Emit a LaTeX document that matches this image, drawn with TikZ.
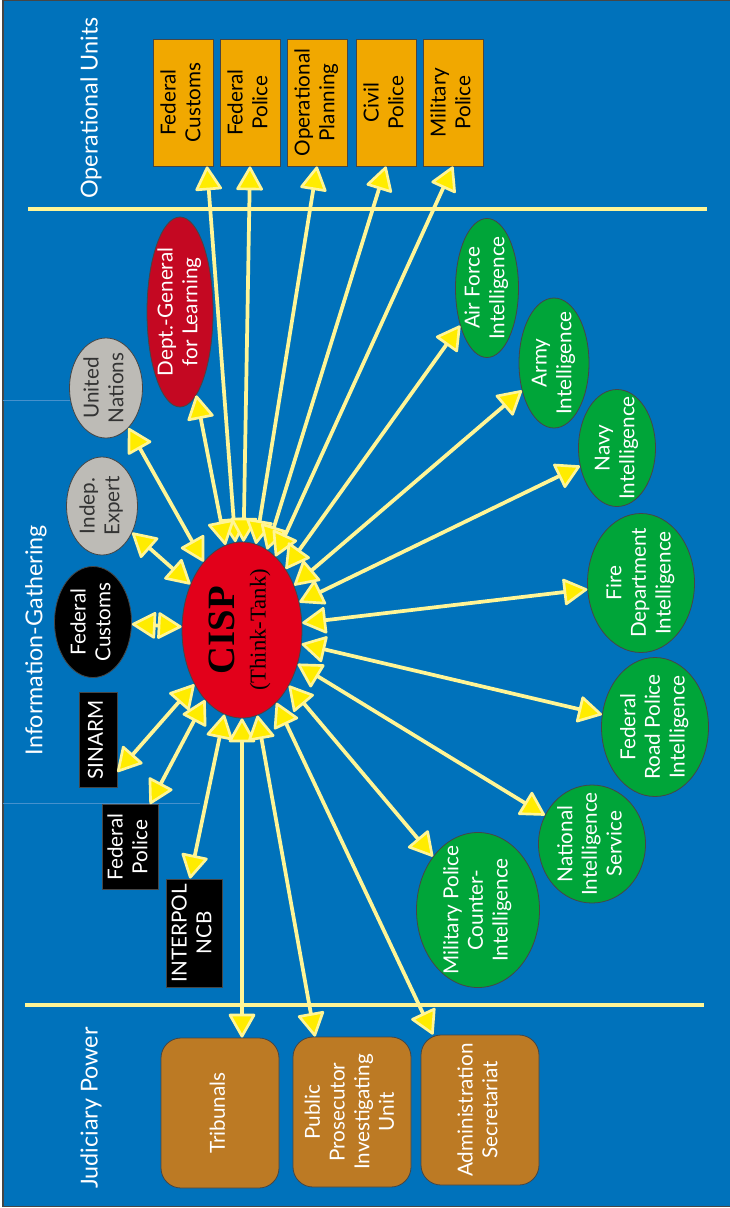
\documentclass[tikz,border=0pt]{standalone}
\usepackage{fontspec}
\setmainfont{Lato}
\newfontfamily\cispfont{Liberation Serif}
\usepackage{graphicx}
\usetikzlibrary{arrows.meta,shapes.geometric}

\definecolor{bgblue}{RGB}{0,114,187}
\definecolor{lineyel}{RGB}{255,245,150}
\definecolor{tipyel}{RGB}{255,236,0}
\definecolor{opsorange}{RGB}{241,168,0}
\definecolor{judbrown}{RGB}{188,122,36}
\definecolor{cispred}{RGB}{226,0,26}
\definecolor{deptred}{RGB}{196,8,34}
\definecolor{intgreen}{RGB}{0,165,57}
\definecolor{srcgray}{RGB}{189,187,182}
\definecolor{edgegray}{RGB}{70,70,70}
\definecolor{faintblue}{RGB}{70,145,205}

% text turned a quarter, zero size so the shape keeps its own size
\newcommand{\vt}[1]{\makebox[0pt]{\raisebox{-.5\height}[0pt][0pt]{\rotatebox{90}{\begin{tabular}{@{}c@{}}#1\end{tabular}}}}}

\tikzset{
  yeltip/.tip={Triangle[length=19pt,width=21pt,fill=tipyel,line width=2pt,round]},
  link/.style={draw=lineyel, line width=2.8pt, yeltip-yeltip},
  divider/.style={draw=lineyel, line width=3pt},
  heading/.style={text=white, inner sep=0pt, font=\fontsize{17.5}{21}\selectfont},
  unitbox/.style={draw=edgegray, line width=0.6pt, fill=opsorange, inner sep=0pt,
    minimum width=45pt, minimum height=95.25pt, font=\fontsize{15.5}{18.5}\selectfont},
  courtbox/.style={draw=edgegray, line width=0.6pt, fill=judbrown, text=white, inner sep=0pt,
    rounded corners=15pt, minimum width=88.5pt, minimum height=112.5pt, font=\fontsize{15.5}{18.5}\selectfont},
  source/.style={ellipse, draw=edgegray, line width=0.6pt, inner sep=0pt, font=\fontsize{15.5}{18.5}\selectfont},
  regbox/.style={draw=edgegray, line width=0.6pt, fill=black, text=white, inner sep=0pt, font=\fontsize{15.5}{18.5}\selectfont},
  intel/.style={ellipse, draw=edgegray, line width=0.6pt, fill=intgreen, text=white, inner sep=0pt, font=\fontsize{15.5}{18.5}\selectfont},
}

\begin{document}
\begin{tikzpicture}[x=0.75pt,y=0.75pt,yscale=-1,xscale=1]
\useasboundingbox (0,0) rectangle (730,1208);
%Background
\draw [fill=bgblue, draw=edgegray, line width=1pt] (3,0.5) rectangle (732,1206.5);
\draw [faintblue, line width=0.5pt] (3,400) -- (140,400);
\draw [faintblue, line width=0.5pt] (3,803) -- (200,803);
%Dividers
\draw [divider] (28,209) -- (707,209);
\draw [divider] (25,1005) -- (704,1005);
% Headings
\node [heading] (hops) at (91,108) {\rotatebox{90}{Operational Units}};
\node [heading] (hinfo) at (36,640) {\rotatebox{90}{Information-Gathering}};
\node [heading] (hjud) at (91,1108) {\rotatebox{90}{Judiciary Power}};
% Operational units
\node [unitbox] (ucust) at (183,102.5) {\vt{Federal\\Customs}};
\node [unitbox] (upol) at (250,102.5) {\vt{Federal\\Police}};
\node [unitbox] (uplan) at (317,102.5) {\vt{Operational\\Planning}};
\node [unitbox] (ucivil) at (386,102.5) {\vt{Civil\\Police}};
\node [unitbox] (umil) at (453,102.5) {\vt{Military\\Police}};
% Judiciary
\node [courtbox] (trib) at (220,1113) {\vt{Tribunals}};
\node [courtbox] (prosec) at (352,1112) {\vt{Public\\Prosecutor\\Investigating\\Unit}};
\node [courtbox] (admin) at (480,1110) {\vt{Administration\\Secretariat}};
% Think-tank
\node [ellipse, draw=edgegray, line width=0.6pt, fill=cispred, inner sep=0pt, minimum width=90pt, minimum height=132pt,
  font=\cispfont\fontsize{17}{23}\selectfont] (cisp) at (242,630)
  {\vt{{\fontsize{29}{29}\selectfont\bfseries CISP}\\(Think-Tank)}};
% Information sources
\node [source, fill=black, text=white, minimum width=57.75pt, minimum height=83.25pt] (fcust) at (93,622) {\vt{Federal\\Customs}};
\node [source, fill=srcgray, text=black!80, minimum width=53.25pt, minimum height=73.5pt] (expert) at (102,506) {\vt{Indep.\\Expert}};
\node [source, fill=srcgray, text=black!80, minimum width=54.75pt, minimum height=75pt] (un) at (106,388) {\vt{United\\Nations}};
\node [source, fill=deptred, text=white, minimum width=49.5pt, minimum height=142.5pt] (dept) at (180,312) {\vt{Dept.-General\\for Learning}};
\node [regbox, minimum width=28.5pt, minimum height=71.25pt] (sinarm) at (98,740) {\vt{SINARM}};
\node [regbox, minimum width=42pt, minimum height=63.75pt] (fpol) at (130,847) {\vt{Federal\\Police}};
\node [regbox, minimum width=42pt, minimum height=81pt] (interpol) at (194,933) {\vt{INTERPOL\\NCB}};
% Intelligence services
\node [intel, minimum width=47.25pt, minimum height=104.25pt] (airf) at (487,288) {\vt{Air Force\\Intelligence}};
\node [intel, minimum width=52.5pt, minimum height=97.5pt] (army) at (554,363) {\vt{Army\\Intelligence}};
\node [intel, minimum width=57.75pt, minimum height=87.75pt] (navy) at (617,448) {\vt{Navy\\Intelligence}};
\node [intel, minimum width=80.25pt, minimum height=104.25pt] (fire) at (641,583) {\vt{Fire\\Department\\Intelligence}};
\node [intel, minimum width=80.25pt, minimum height=104.25pt] (road) at (655,727) {\vt{Federal\\Road Police\\Intelligence}};
\node [intel, minimum width=80.25pt, minimum height=88.5pt] (nis) at (592,844) {\vt{National\\Intelligence\\Service}};
\node [intel, minimum width=92.25pt, minimum height=116.25pt] (mpci) at (478,910) {\vt{Military Police\\Counter-\\Intelligence}};
% Links
\draw [link] (cisp) -- ([xshift=18pt]ucust.south);
\draw [link] (cisp) -- (upol.south);
\draw [link] (cisp) -- (uplan.south);
\draw [link] (cisp) -- (ucivil.south);
\draw [link] (cisp) -- (umil.south);
\draw [link] (cisp) -- (dept);
\draw [link] (cisp) -- (un);
\draw [link] (cisp) -- (expert);
\draw [link] (cisp) -- (fcust);
\draw [link] (cisp) -- ([yshift=24pt]sinarm.east);
\draw [link] (cisp) -- ([xshift=15pt]fpol.north);
\draw [link] (cisp) -- ([xshift=-3pt]interpol.north);
\draw [link] (cisp) -- (trib.north -| cisp);
\draw [link] (cisp) -- ([xshift=-27.75pt]prosec.north);
\draw [link] (cisp) -- ([xshift=-35.25pt]admin.north);
\draw [link] (cisp) -- (airf);
\draw [link] (cisp) -- (army);
\draw [link] (cisp) -- (navy);
\draw [link] (cisp) -- (fire);
\draw [link] (cisp) -- (road);
\draw [link] (cisp) -- (nis);
\draw [link] (cisp) -- (mpci);
\end{tikzpicture}
\end{document}
